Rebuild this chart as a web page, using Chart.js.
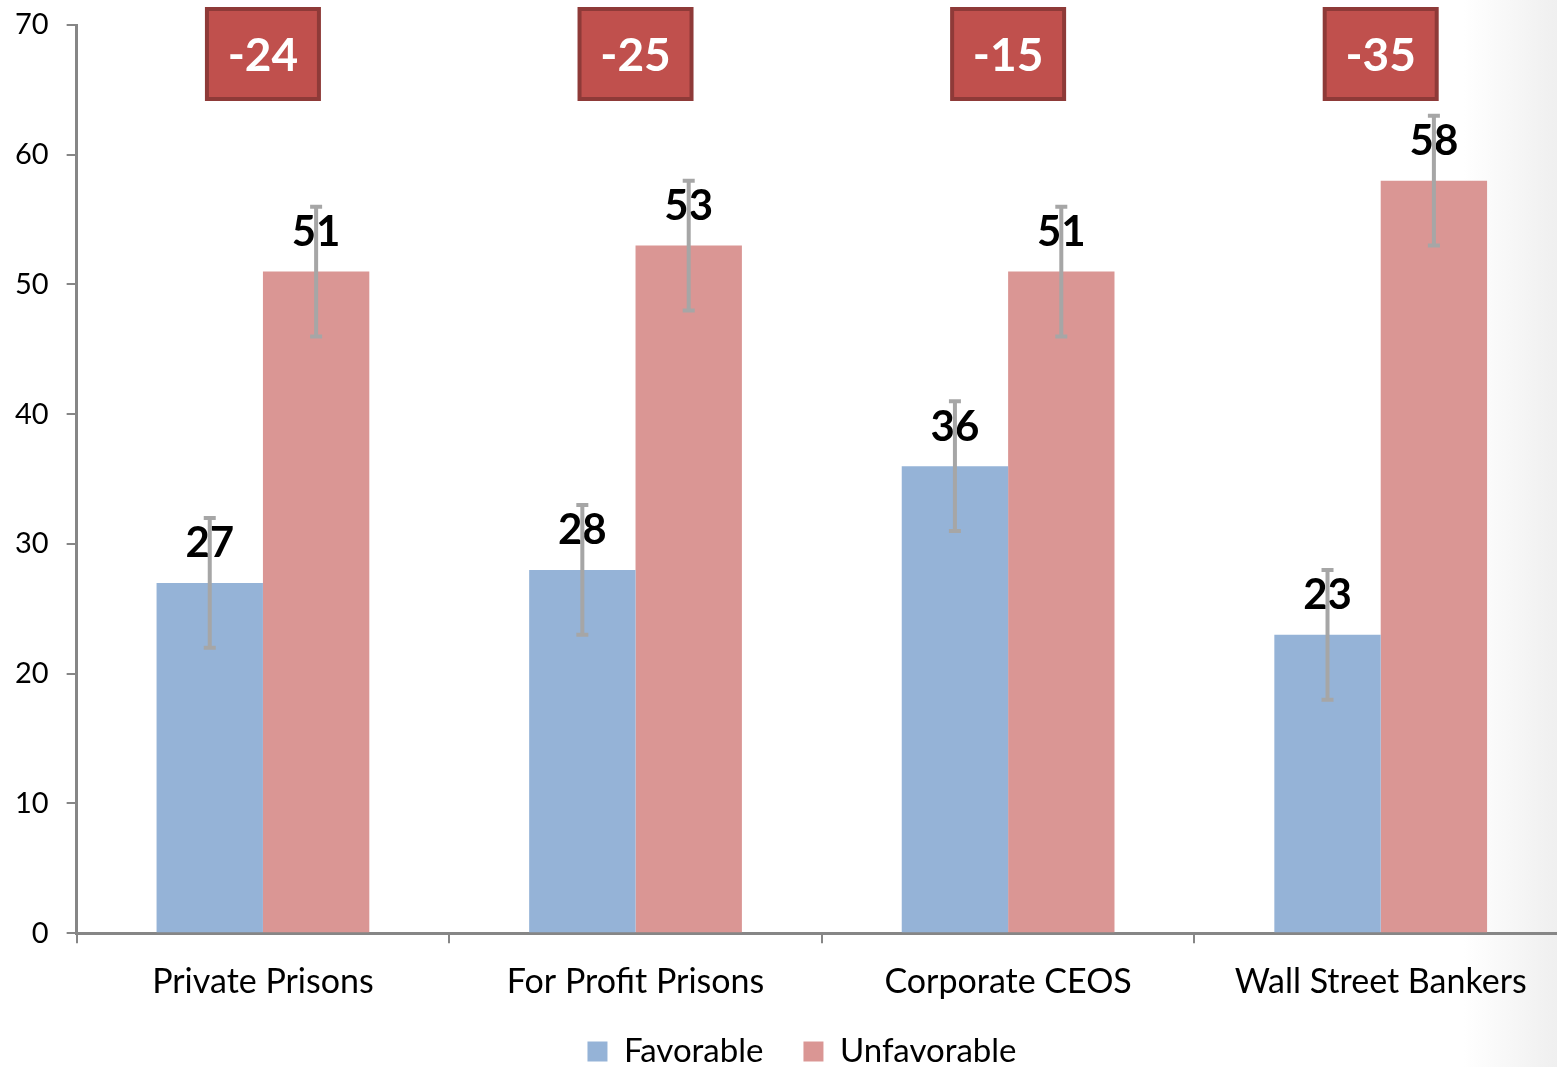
<!DOCTYPE html>
<html>
<head>
<meta charset="utf-8">
<script src="https://cdn.jsdelivr.net/npm/chart.js@4.4.1/dist/chart.umd.min.js"></script>
<style>
  html, body { margin: 0; padding: 0; overflow: hidden; width: 1557px; height: 1067px;
    background: linear-gradient(to right, #ffffff 0%, #ffffff 94%, #efefef 100%); }
  #wrap { position: absolute; left: 0; top: 0; width: 1604px; height: 1078px; }
</style>
</head>
<body>
<div id="wrap"><canvas id="c"></canvas></div>
<script>
const categories = ["Private Prisons", "For Profit Prisons", "Corporate CEOS", "Wall Street Bankers"];
const favorable = [27, 28, 36, 23];
const unfavorable = [51, 53, 51, 58];
const favorableErr = [5, 5, 5, 5];
const unfavorableErr = [5, 5, 5, 5];
const netLabels = ["-24", "-25", "-15", "-35"];
const yTicks = [0, 10, 20, 30, 40, 50, 60, 70];

const FONT = "Lato, 'Open Sans', sans-serif";
const X_CUT = 25;

const layoutTweakPlugin = {
  id: 'layoutTweak',
  afterLayout(chart) {
    if (chart.legend) { chart.legend.left += 20; chart.legend.right += 20; }
    const xs = chart.scales.x;
    if (xs) { xs.bottom += X_CUT; xs.height += X_CUT; }
  }
};

const overlayPlugin = {
  id: 'overlay',
  afterDatasetsDraw(chart) {
    const ctx = chart.ctx;
    const y = chart.scales.y;
    const x = chart.scales.x;
    const errs = [favorableErr, unfavorableErr];
    // value labels
    chart.data.datasets.forEach((ds, di) => {
      const meta = chart.getDatasetMeta(di);
      meta.data.forEach((bar, i) => {
        ctx.save();
        ctx.font = "bold 42px " + FONT;
        ctx.fillStyle = "#000000";
        ctx.textAlign = "center";
        ctx.textBaseline = "middle";
        ctx.fillText(String(ds.data[i]), bar.x, bar.y - 39);
        ctx.restore();
      });
    });
    // error bars
    chart.data.datasets.forEach((ds, di) => {
      const meta = chart.getDatasetMeta(di);
      meta.data.forEach((bar, i) => {
        const v = ds.data[i], e = errs[di][i];
        const yTop = y.getPixelForValue(v + e);
        const yBot = y.getPixelForValue(v - e);
        ctx.save();
        ctx.strokeStyle = "#a6a6a6";
        ctx.lineWidth = 4;
        ctx.beginPath();
        ctx.moveTo(bar.x, yTop); ctx.lineTo(bar.x, yBot);
        ctx.moveTo(bar.x - 6, yTop); ctx.lineTo(bar.x + 6, yTop);
        ctx.moveTo(bar.x - 6, yBot); ctx.lineTo(bar.x + 6, yBot);
        ctx.stroke();
        ctx.restore();
      });
    });
    // net difference boxes
    netLabels.forEach((lab, i) => {
      const cx = x.getPixelForValue(i);
      const w = 112, h = 90;
      const top = chart.chartArea.top - 16;
      ctx.save();
      ctx.fillStyle = "#c0504d";
      ctx.strokeStyle = "#8e3a38";
      ctx.lineWidth = 4;
      ctx.beginPath();
      ctx.rect(cx - w / 2, top, w, h);
      ctx.fill();
      ctx.stroke();
      ctx.font = "bold 46px " + FONT;
      ctx.fillStyle = "#ffffff";
      ctx.textAlign = "center";
      ctx.textBaseline = "middle";
      ctx.fillText(lab, cx, top + h / 2 + 2);
      ctx.restore();
    });
  }
};

new Chart(document.getElementById('c'), {
  type: 'bar',
  data: {
    labels: categories,
    datasets: [
      { label: 'Favorable', data: favorable, backgroundColor: '#95b3d7', borderWidth: 0 },
      { label: 'Unfavorable', data: unfavorable, backgroundColor: '#da9694', borderWidth: 0 }
    ]
  },
  options: {
    responsive: true,
    maintainAspectRatio: false,
    animation: false,
    layout: { padding: { left: -3, right: 37, top: 0, bottom: 0 } },
    categoryPercentage: 0.571,
    barPercentage: 1.0,
    plugins: {
      legend: {
        position: 'bottom',
        labels: {
          font: { family: FONT, size: 33 },
          color: '#000000',
          boxWidth: 20,
          boxHeight: 20,
          padding: 40
        }
      },
      tooltip: { enabled: false }
    },
    scales: {
      x: {
        afterFit(scale) { scale.height -= X_CUT; },
        grid: { display: true, drawOnChartArea: false, drawTicks: true, tickLength: 10, color: '#868686', lineWidth: 2, offset: true },
        border: { display: true, color: '#868686', width: 3 },
        ticks: { font: { family: FONT, size: 34 }, color: '#000000', padding: 18 }
      },
      y: {
        min: 0, max: 70,
        afterBuildTicks(axis) { axis.ticks = yTicks.map(v => ({ value: v })); },
        afterFit(scale) { scale.paddingTop = 25; },
        grid: { display: true, drawOnChartArea: false, drawTicks: true, tickLength: 10, color: '#868686', lineWidth: 2 },
        border: { display: true, color: '#868686', width: 3 },
        ticks: { font: { family: FONT, size: 29 }, color: '#000000', padding: 18 }
      }
    }
  },
  plugins: [overlayPlugin, layoutTweakPlugin]
});
</script>
</body>
</html>
